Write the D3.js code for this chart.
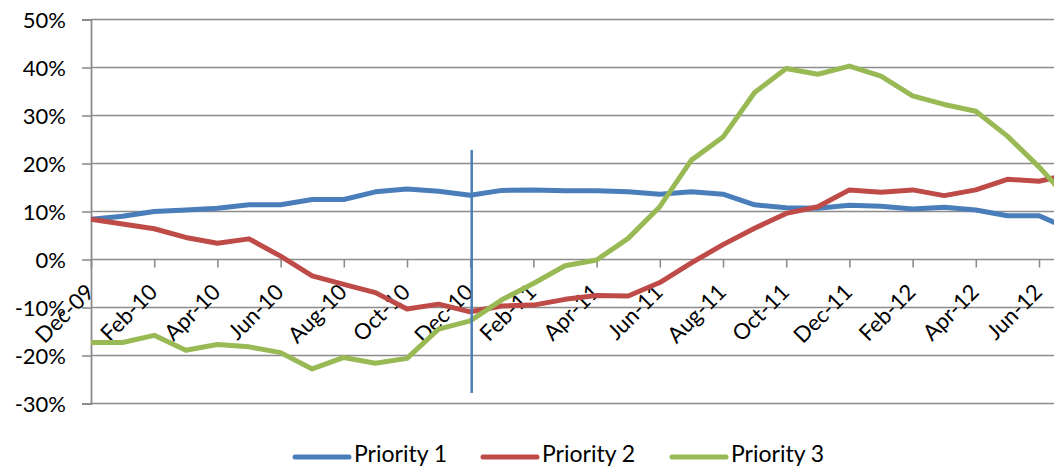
<!DOCTYPE html>
<html>
<head>
<meta charset="utf-8">
<script src="https://cdn.jsdelivr.net/npm/d3@7"></script>
<style>
  html, body { margin: 0; padding: 0; background: #fff; }
  svg { display: block; font-family: Lato, "Open Sans", sans-serif; }
</style>
</head>
<body>
<svg id="chart" width="1054" height="469"></svg>
<script>
// ---- data ----
const months = ["Dec-09","Jan-10","Feb-10","Mar-10","Apr-10","May-10","Jun-10","Jul-10","Aug-10","Sep-10","Oct-10","Nov-10",
                "Dec-10","Jan-11","Feb-11","Mar-11","Apr-11","May-11","Jun-11","Jul-11","Aug-11","Sep-11","Oct-11","Nov-11",
                "Dec-11","Jan-12","Feb-12","Mar-12","Apr-12","May-12","Jun-12","Jul-12"];
const priority1 = [8.4, 9.0, 10.0, 10.3, 10.7, 11.4, 11.4, 12.5, 12.5, 14.1, 14.7, 14.2, 13.4, 14.4, 14.5, 14.3,
                   14.3, 14.1, 13.6, 14.1, 13.6, 11.4, 10.8, 10.7, 11.3, 11.1, 10.5, 10.9, 10.3, 9.1, 9.1, 6.3];
const priority2 = [8.4, 7.4, 6.4, 4.6, 3.4, 4.3, 0.7, -3.4, -5.2, -6.9, -10.3, -9.3, -10.9, -9.7, -9.5, -8.3,
                   -7.5, -7.6, -4.8, -0.7, 3.1, 6.5, 9.6, 11.0, 14.5, 14.0, 14.5, 13.3, 14.5, 16.7, 16.3, 17.8];
const priority3 = [-17.3, -17.3, -15.8, -18.9, -17.7, -18.2, -19.4, -22.8, -20.4, -21.6, -20.6, -14.5, -12.8, -8.4, -5.0, -1.3,
                   -0.1, 4.4, 11.0, 20.7, 25.5, 34.8, 39.8, 38.6, 40.3, 38.2, 34.1, 32.3, 30.9, 25.7, 19.3, 12.1];
const tickLabels = ["Dec-09","Feb-10","Apr-10","Jun-10","Aug-10","Oct-10","Dec-10","Feb-11","Apr-11","Jun-11",
                    "Aug-11","Oct-11","Dec-11","Feb-12","Apr-12","Jun-12"];
const yTicks = [-30, -20, -10, 0, 10, 20, 30, 40, 50];
const seriesNames = ["Priority 1", "Priority 2", "Priority 3"];
const markerMonth = "Dec-10";
const markerRange = [-27.8, 22.8];

// ---- styles ----
const colors = ["#4A7EBB", "#BE4B48", "#98B954"];
const gridColor = "#8c8c8c";
const plotLeft = 91, plotRight = 1070.6, plotTop = 19.5, plotBottom = 403.5;

const svg = d3.select("#chart");
const x = d3.scalePoint().domain(months).range([plotLeft, plotRight]);
const y = d3.scaleLinear().domain([-30, 50]).range([plotBottom, plotTop]);

// gridlines
svg.append("g").selectAll("line").data(yTicks).join("line")
  .attr("x1", plotLeft).attr("x2", plotRight)
  .attr("y1", d => y(d)).attr("y2", d => y(d))
  .attr("stroke", gridColor).attr("stroke-width", 1.6);

// y axis
const yAxis = d3.axisLeft(y).tickValues(yTicks).tickSize(9).tickPadding(16)
  .tickFormat(d => d + "%");
const gy = svg.append("g").attr("transform", `translate(${plotLeft},0)`).call(yAxis);
gy.select(".domain").attr("stroke", gridColor).attr("stroke-width", 1.8);
gy.selectAll(".tick line").attr("stroke", gridColor).attr("stroke-width", 1.6);
gy.selectAll(".tick text").attr("font-size", 22).attr("fill", "#000")
  .attr("font-family", "Lato, sans-serif").attr("dy", "0.36em");

// x axis at 0
const xAxis = d3.axisBottom(x).tickValues(tickLabels).tickSize(8).tickFormat(d => d);
const gx = svg.append("g").attr("transform", `translate(0,${y(0)})`).call(xAxis);
gx.select(".domain").remove();
gx.selectAll(".tick line").attr("stroke", gridColor).attr("stroke-width", 1.6);
gx.selectAll(".tick text")
  .attr("font-size", 22).attr("fill", "#000").attr("font-family", "Lato, sans-serif")
  .attr("text-anchor", "end").attr("y", 0).attr("dy", 0)
  .attr("transform", "translate(4,34) rotate(-45)");

// lines
const allSeries = [priority1, priority2, priority3];
const line = d3.line().x((d, i) => x(months[i])).y(d => y(d));
svg.append("g").selectAll("path").data(allSeries).join("path")
  .attr("d", d => line(d))
  .attr("fill", "none")
  .attr("stroke", (d, i) => colors[i])
  .attr("stroke-width", 5)
  .attr("stroke-linejoin", "round");

// vertical marker
svg.append("line")
  .attr("x1", x(markerMonth) + 1.5).attr("x2", x(markerMonth) + 1.5)
  .attr("y1", y(markerRange[1])).attr("y2", y(markerRange[0]))
  .attr("stroke", colors[0]).attr("stroke-width", 2.5);

// legend
const legendX = [295, 483, 672];
const lg = svg.append("g").selectAll("g").data(seriesNames).join("g")
  .attr("transform", (d, i) => `translate(${legendX[i]},457)`);
lg.append("line").attr("x1", 0).attr("x2", 54).attr("y1", 0).attr("y2", 0)
  .attr("stroke", (d, i) => colors[i]).attr("stroke-width", 5).attr("stroke-linecap", "round");
lg.append("text").attr("x", 59).attr("y", 5)
  .attr("font-size", 23).attr("fill", "#000").text(d => d);
</script>
</body>
</html>
